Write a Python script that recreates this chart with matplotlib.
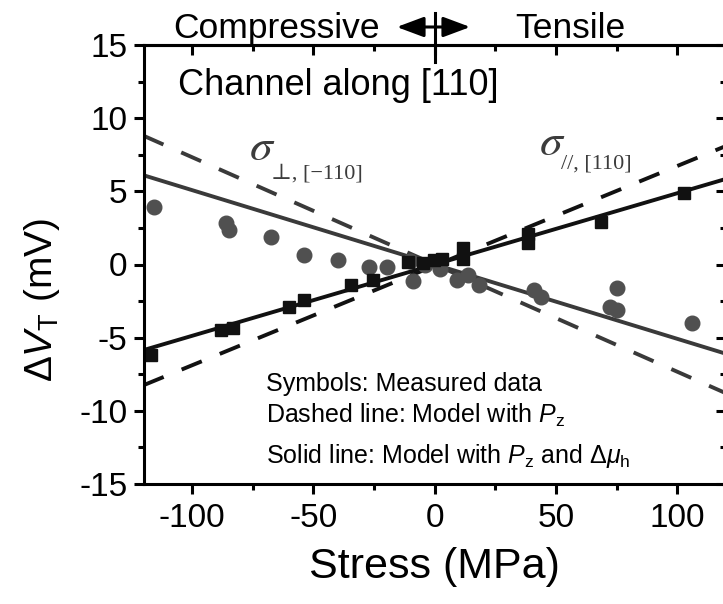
import matplotlib
matplotlib.use("Agg")
import matplotlib.pyplot as plt
import matplotlib.transforms as mtransforms
from matplotlib.ticker import MultipleLocator
from matplotlib.patches import FancyArrowPatch
from matplotlib.lines import Line2D

plt.rcParams.update({
    "font.family": ["Liberation Sans", "DejaVu Sans"],
    "axes.unicode_minus": False,
    "mathtext.fontset": "custom",
    "mathtext.rm": "Liberation Sans",
    "mathtext.it": "Liberation Sans:italic",
    "mathtext.bf": "Liberation Sans:bold",
})

# Measured threshold-voltage shifts (mV) versus applied stress (MPa)
perp_stress = [-115.5, -86.0, -84.8, -67.5, -53.8, -40.0, -27.0, -19.5, -10.0,
               -9.0, -4.0, 2.0, 9.3, 13.5, 18.2, 40.9, 43.6, 72.4, 75.2, 75.2, 106.0]
perp_dvt = [3.95, 2.82, 2.36, 1.90, 0.65, 0.31, -0.15, -0.15, 0.25,
            -1.10, 0.00, -0.30, -1.06, -0.72, -1.40, -1.74, -2.20, -2.88, -3.11, -1.63, -4.02]

par_stress = [-116.9, -88.0, -83.3, -60.0, -53.8, -34.6, -25.6, -11.2, -5.0,
              -0.3, 3.0, 11.5, 11.5, 38.5, 38.5, 68.3, 102.6]
par_dvt = [-6.19, -4.48, -4.36, -2.88, -2.43, -1.40, -1.06, 0.19, 0.10,
           0.31, 0.35, 0.40, 1.10, 2.10, 1.50, 2.93, 4.87]

# Model curves
model_stress = [-120, 120]
perp_model_pz = [8.8, -8.8]
perp_model_pz_mu = [6.1, -6.1]
par_model_pz = [-8.25, 8.1]
par_model_pz_mu = [-5.85, 5.85]

W, H = 723, 604
fig = plt.figure(figsize=(W / 100, H / 100), dpi=100)


def fx(px):
    return px / W


def fy(py):
    return 1 - py / H


ax = fig.add_axes([fx(143.5), fy(484), (726 - 143.5) / W, (484 - 45) / H])

dark = "#3a3a3a"
black = "#111111"
lw = 2.8
dash = (5.6, 5.0)

ax.plot(model_stress, perp_model_pz, color=dark, lw=lw, dashes=dash)
ax.plot(model_stress, par_model_pz, color=black, lw=lw, dashes=dash)
ax.plot(model_stress, perp_model_pz_mu, color=dark, lw=lw)
ax.plot(model_stress, par_model_pz_mu, color=black, lw=lw)

ax.plot(perp_stress, perp_dvt, "o", color="#505050", ms=10.5, mec="#505050", ls="none")
ax.plot(par_stress, par_dvt, "s", color=black, ms=8.7, mec=black, ls="none")

ax.set_xlim(-120, 120)
ax.set_ylim(-15, 15)
ax.set_xticks([-100, -50, 0, 50, 100])
ax.set_yticks([-15, -10, -5, 0, 5, 10, 15])
ax.xaxis.set_minor_locator(MultipleLocator(25))
ax.yaxis.set_minor_locator(MultipleLocator(2.5))

spine_w = 2.2
for s in ax.spines.values():
    s.set_linewidth(spine_w)
ax.tick_params(which="both", direction="out", width=spine_w, labelsize=24,
               top=False, right=False)
ax.tick_params(which="major", length=7.5, pad=4)
ax.tick_params(which="minor", length=4.5)
ax.tick_params(axis="x", which="major", pad=6)

# Mirrored axes with inward ticks
secx = ax.secondary_xaxis("top")
secx.set_xticks([-100, -50, 0, 50, 100])
secx.xaxis.set_minor_locator(MultipleLocator(25))
secx.tick_params(which="both", direction="in", width=spine_w, labeltop=False)
secx.tick_params(which="major", length=7.5)
secx.tick_params(which="minor", length=4.5)
secx.spines["top"].set_linewidth(spine_w)

secy = ax.secondary_yaxis("right")
secy.set_yticks([-15, -10, -5, 0, 5, 10, 15])
secy.yaxis.set_minor_locator(MultipleLocator(2.5))
secy.tick_params(which="both", direction="in", width=spine_w, labelright=False)
secy.tick_params(which="major", length=7.5)
secy.tick_params(which="minor", length=4.5)
secy.spines["right"].set_linewidth(spine_w)

# Axis labels
fig.text(fx(434), fy(567), "Stress (MPa)", fontsize=31, ha="center", va="center")
fig.text(fx(41.5), fy(300), r"$\Delta V_{\mathrm{T}}$ (mV)", fontsize=28,
         rotation=90, ha="center", va="center")

# Stress-direction banner
fig.text(fx(380), fy(38), "Compressive", fontsize=25.5, ha="right", va="baseline")
fig.text(fx(515), fy(38), "Tensile", fontsize=25.5, ha="left", va="baseline")
arrow = FancyArrowPatch((fx(394), fy(27)), (fx(473), fy(27)),
                        transform=fig.transFigure,
                        arrowstyle="<|-|>,head_length=0.75,head_width=0.28",
                        mutation_scale=22, lw=2.2, color="black")
fig.add_artist(arrow)
trans = mtransforms.blended_transform_factory(ax.transData, fig.transFigure)
fig.add_artist(Line2D([0, 0], [fy(13), fy(62)], transform=trans, color="black", lw=2.2))

# In-plot annotations
fig.text(fx(178), fy(95), "Channel along [110]", fontsize=26, ha="left", va="baseline")

sig_col = "#3c3c3c"
fig.text(fx(249), fy(160), r"$\sigma$", fontsize=33, color=sig_col,
         math_fontfamily="stix", ha="left", va="baseline")
fig.text(fx(271), fy(178), "\u22a5, [\u2212110]", fontsize=16, color=sig_col,
         family=["Liberation Serif", "DejaVu Serif"], ha="left", va="baseline")
fig.text(fx(539), fy(155), r"$\sigma$", fontsize=33, color=sig_col,
         math_fontfamily="stix", ha="left", va="baseline")
fig.text(fx(561), fy(169), "//, [110]", fontsize=16, color=sig_col,
         family=["Liberation Serif", "DejaVu Serif"], ha="left", va="baseline")

fig.text(fx(266), fy(391), "Symbols: Measured data", fontsize=18, ha="left", va="baseline")
fig.text(fx(266), fy(423), r"Dashed line: Model with $P_{\mathrm{z}}$", fontsize=18,
         ha="left", va="baseline")
fig.text(fx(266), fy(463), r"Solid line: Model with $P_{\mathrm{z}}$ and $\Delta\mu_{\mathrm{h}}$",
         fontsize=18, ha="left", va="baseline")

fig.savefig("out.png", dpi=100)
